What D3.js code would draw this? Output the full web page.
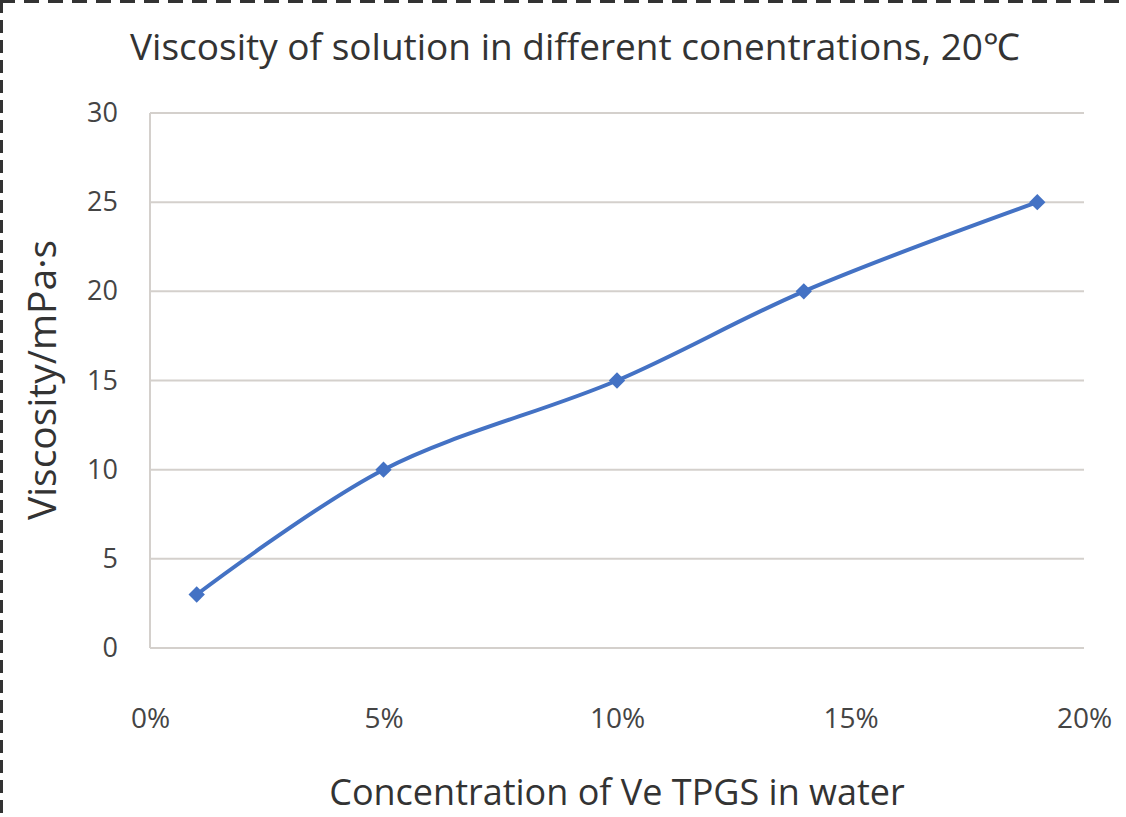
<!DOCTYPE html>
<html><head><meta charset="utf-8">
<script src="https://cdn.jsdelivr.net/npm/d3@7"></script>
<style>html,body{margin:0;padding:0;background:#fff;}svg{display:block;}</style>
</head><body>
<svg id="c" width="1126" height="817"></svg>
<script>
const concentrations = [0.01, 0.05, 0.10, 0.14, 0.19];
const viscosity = [3, 10, 15, 20, 25];
const xTicks = [0, 0.05, 0.10, 0.15, 0.20];
const yTicks = [0, 5, 10, 15, 20, 25, 30];
const titleText = "Viscosity of solution in different conentrations, 20\u2103";
const xTitle = "Concentration of Ve TPGS in water";
const yTitle = "Viscosity/mPa\u00b7s";

const svg = d3.select("#c");
const W = 1126, H = 817;
const m = {left:150, right:1084, top:113, bottom:648};
const x = d3.scaleLinear().domain([0,0.20]).range([m.left, m.right]);
const y = d3.scaleLinear().domain([0,30]).range([m.bottom, m.top]);
const font = "'Open Sans', sans-serif";

// dashed frame
svg.append("line").attr("x1",0).attr("x2",W).attr("y1",1.5).attr("y2",1.5)
  .attr("stroke","#333").attr("stroke-width",3).attr("stroke-dasharray","15,9");
svg.append("line").attr("x1",1.5).attr("x2",1.5).attr("y1",0).attr("y2",H)
  .attr("stroke","#333").attr("stroke-width",3).attr("stroke-dasharray","13,7");

// gridlines
svg.append("g").selectAll("line").data(yTicks).join("line")
  .attr("x1",m.left).attr("x2",m.right)
  .attr("y1",d=>y(d)).attr("y2",d=>y(d))
  .attr("stroke","#d4d0cc").attr("stroke-width",2);
svg.append("line").attr("x1",m.left).attr("x2",m.left).attr("y1",m.top).attr("y2",m.bottom)
  .attr("stroke","#d4d0cc").attr("stroke-width",2);

// y axis
const ya = svg.append("g").attr("transform",`translate(${m.left},0)`)
  .call(d3.axisLeft(y).tickValues(yTicks).tickSize(0).tickPadding(32).tickFormat(d3.format("d")));
ya.select(".domain").remove();
ya.selectAll("text").attr("font-family",font).attr("font-size",27).attr("fill","#444");

// x axis
const xa = svg.append("g").attr("transform",`translate(0,${m.bottom})`)
  .call(d3.axisBottom(x).tickValues(xTicks).tickSize(0).tickPadding(60).tickFormat(d3.format(".0%")));
xa.select(".domain").remove();
xa.selectAll("text").attr("font-family",font).attr("font-size",28).attr("fill","#444");

// line
const data = concentrations.map((c,i)=>({c, v:viscosity[i]}));
svg.append("path").datum(data)
  .attr("d", d3.line().x(d=>x(d.c)).y(d=>y(d.v)).curve(d3.curveCatmullRom.alpha(0.5)))
  .attr("fill","none").attr("stroke","#4472C4").attr("stroke-width",4);
svg.append("g").selectAll("path").data(data).join("path")
  .attr("transform",d=>`translate(${x(d.c)},${y(d.v)})`)
  .attr("d", d3.symbol(d3.symbolDiamond2 || d3.symbolDiamond, 170)())
  .attr("fill","#4472C4");

// titles
svg.append("text").attr("x",575).attr("y",60).attr("text-anchor","middle")
  .attr("font-family",font).attr("font-size",37).attr("fill","#333").text(titleText);
svg.append("text").attr("transform","translate(56,380) rotate(-90)").attr("text-anchor","middle")
  .attr("font-family",font).attr("font-size",39).attr("fill","#333").text(yTitle);
svg.append("text").attr("x",617).attr("y",805).attr("text-anchor","middle")
  .attr("font-family",font).attr("font-size",36).attr("fill","#333").text(xTitle);
</script>
</body></html>
